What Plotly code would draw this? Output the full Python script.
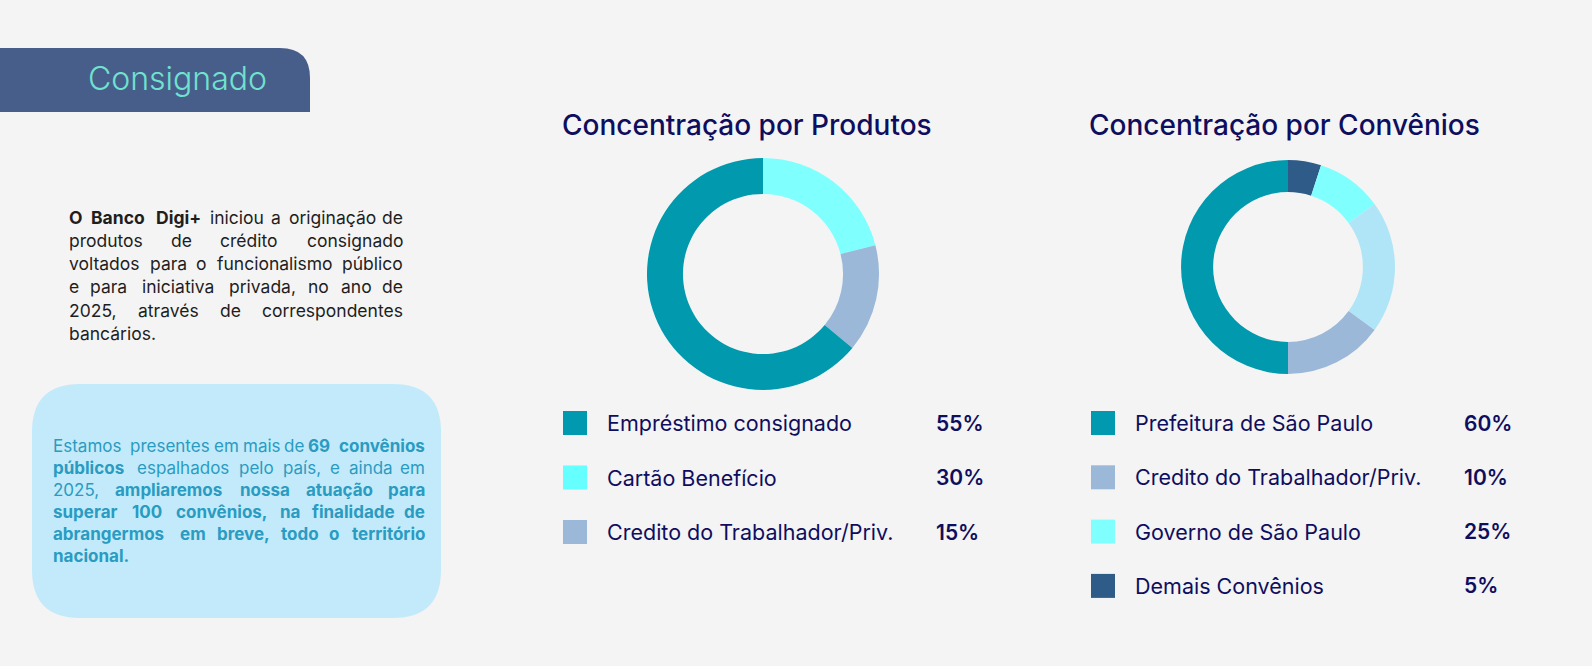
import plotly.graph_objects as go

# ---------------- data ----------------
header_title = "Consignado"
title_products = "Concentração por Produtos"
title_convenios = "Concentração por Convênios"

# donut slices, clockwise from 12 o'clock (as drawn)
prod_slice_labels = ["Cartão Benefício", "Credito do Trabalhador/Priv.", "Empréstimo consignado"]
prod_slice_values = [21, 15, 64]
prod_slice_colors = ["#80FFFF", "#9BB8D8", "#0099AD"]

conv_slice_labels = ["Demais Convênios", "Governo de São Paulo", "Outros",
                     "Credito do Trabalhador/Priv.", "Prefeitura de São Paulo"]
conv_slice_values = [5, 10, 20, 15, 50]
conv_slice_colors = ["#2E5B88", "#80FFFF", "#B0E5F7", "#9BB8D8", "#0099AD"]

# legends
prod_legend_labels = ["Empréstimo consignado", "Cartão Benefício", "Credito do Trabalhador/Priv."]
prod_legend_pcts = ["55%", "30%", "15%"]
prod_legend_colors = ["#0099AF", "#66FFFF", "#9BB8D8"]

conv_legend_labels = ["Prefeitura de São Paulo", "Credito do Trabalhador/Priv.",
                      "Governo de São Paulo", "Demais Convênios"]
conv_legend_pcts = ["60%", "10%", "25%", "5%"]
conv_legend_colors = ["#0099AF", "#9BB8D8", "#80FFFF", "#2E5B88"]

# paragraphs (**bold**)
left_par_lines = [
    "**O Banco Digi+** iniciou a originação de",
    "produtos de crédito consignado",
    "voltados para o funcionalismo público",
    "e para iniciativa privada, no ano de",
    "2025, através de correspondentes",
    "bancários.",
]
box_par_lines = [
    "Estamos presentes em mais de **69 convênios**",
    "**públicos** espalhados pelo país, e ainda em",
    "2025, **ampliaremos nossa atuação para**",
    "**superar 100 convênios, na finalidade de**",
    "**abrangermos em breve, todo o território**",
    "**nacional.**",
]

W, H = 1592, 666
FONT = "Inter"
BG = "#F4F4F4"
NAVY = "#0F0E5E"

# ---------------- helpers ----------------
CW = {}
for c in "abcdeghnopqsuvxyz": CW[c] = 0.57
for c in "0123456789": CW[c] = 0.62
for c in "ijl": CW[c] = 0.25
for c in "frt": CW[c] = 0.37
CW["m"] = 0.88; CW["w"] = 0.8; CW["k"] = 0.53
for c in ",.": CW[c] = 0.27
CW["+"] = 0.62; CW["/"] = 0.38; CW["%"] = 0.82


def est_w(word, size, bold):
    w = 0
    for ch in word:
        base = ch.lower()
        if ch.isupper():
            w += 0.7
        elif base in CW:
            w += CW[base]
        elif base == "í":
            w += 0.27
        else:
            w += 0.58
    return w * size * 1.04 * (1.1 if bold else 1.0)


def parse_words(line):
    words = []
    for part_i, part in enumerate(line.split("**")):
        b = part_i % 2 == 1
        for w in part.split():
            words.append((w, b))
    return words


annotations = []


def add_paragraph(lines, x0, x1, y0, dy, size, color):
    for i, line in enumerate(lines):
        y = y0 + i * dy
        words = parse_words(line)
        last = i == len(lines) - 1
        if last or len(words) == 1:
            txt = " ".join(("<b>%s</b>" % w) if b else w for w, b in words)
            annotations.append(dict(x=x0, y=y, xref="x", yref="y", text=txt,
                                    xanchor="left", yanchor="middle", showarrow=False,
                                    font=dict(family=FONT, size=size, color=color)))
            continue
        widths = [est_w(w, size, b) for w, b in words]
        gap = (x1 - x0 - sum(widths)) / (len(words) - 1)
        cx = x0
        for j, ((w, b), wd) in enumerate(zip(words, widths)):
            if j == 0:
                xa, xp = "left", x0
            elif j == len(words) - 1:
                xa, xp = "right", x1
            else:
                xa, xp = "center", cx + wd / 2
            annotations.append(dict(x=xp, y=y, xref="x", yref="y",
                                    text=("<b>%s</b>" % w) if b else w,
                                    xanchor=xa, yanchor="middle", showarrow=False,
                                    font=dict(family=FONT, size=size, color=color)))
            cx += wd + gap


# ---------------- figure ----------------
fig = go.Figure()


def legend_block(labels, pcts, colors, sx, lx, px, y0, dy):
    ys = [y0 + i * dy for i in range(len(labels))]
    fig.add_trace(go.Scatter(x=[sx] * len(labels), y=ys, mode="markers",
                             marker=dict(symbol="square", size=24, color=colors,
                                         line=dict(width=0)),
                             hoverinfo="skip", showlegend=False))
    for lab, pct, y in zip(labels, pcts, ys):
        annotations.append(dict(x=lx, y=y, xref="x", yref="y", text=lab,
                                xanchor="left", yanchor="middle", showarrow=False,
                                font=dict(family=FONT, size=21.5, color=NAVY)))
        annotations.append(dict(x=px, y=y, xref="x", yref="y", text=pct,
                                xanchor="left", yanchor="middle", showarrow=False,
                                font=dict(family=FONT, size=21, color=NAVY, weight=600)))


legend_block(prod_legend_labels, prod_legend_pcts, prod_legend_colors, 575, 605, 934, 423, 54.5)
legend_block(conv_legend_labels, conv_legend_pcts, conv_legend_colors, 1103, 1133, 1462, 423, 54.3)

fig.add_trace(go.Pie(labels=prod_slice_labels, values=prod_slice_values,
                     marker=dict(colors=prod_slice_colors, line=dict(width=0)),
                     sort=False, direction="clockwise", rotation=0, hole=0.69,
                     textinfo="none", hoverinfo="label+percent", showlegend=False,
                     domain=dict(x=[(763 - 116) / W, (763 + 116) / W],
                                 y=[1 - 390 / H, 1 - 158 / H])))
fig.add_trace(go.Pie(labels=conv_slice_labels, values=conv_slice_values,
                     marker=dict(colors=conv_slice_colors, line=dict(width=0)),
                     sort=False, direction="clockwise", rotation=0, hole=0.70,
                     textinfo="none", hoverinfo="label+percent", showlegend=False,
                     domain=dict(x=[(1288 - 107) / W, (1288 + 107) / W],
                                 y=[1 - 374 / H, 1 - 160 / H])))

shapes = [
    dict(type="path", xref="x", yref="y", layer="below",
         path="M 0,48 L 280,48 Q 310,48 310,78 L 310,112 L 0,112 Z",
         fillcolor="#475E8B", line=dict(width=0)),
    dict(type="path", xref="x", yref="y", layer="below",
         path=("M 80,384 L 393,384 Q 441,384 441,432 L 441,570 Q 441,618 393,618 "
               "L 80,618 Q 32,618 32,570 L 32,432 Q 32,384 80,384 Z"),
         fillcolor="#C2EAFB", line=dict(width=0)),
]

annotations.append(dict(x=177, y=78, xref="x", yref="y", text=header_title,
                        xanchor="center", yanchor="middle", showarrow=False,
                        font=dict(family=FONT, size=32, color="#6FE3CF", weight=300)))
annotations.append(dict(x=747, y=125, xref="x", yref="y", text=title_products,
                        xanchor="center", yanchor="middle", showarrow=False,
                        font=dict(family=FONT, size=28, color=NAVY, weight=500)))
annotations.append(dict(x=1284, y=125, xref="x", yref="y", text=title_convenios,
                        xanchor="center", yanchor="middle", showarrow=False,
                        font=dict(family=FONT, size=28, color=NAVY, weight=500)))

add_paragraph(left_par_lines, 67, 405, 217, 23.3, 17.5, "#1E1E1E")
add_paragraph(box_par_lines, 51, 427, 446, 22, 17, "#2A9BC1")

fig.update_layout(
    width=W, height=H, margin=dict(l=0, r=0, t=0, b=0),
    paper_bgcolor=BG, plot_bgcolor=BG,
    xaxis=dict(range=[0, W], visible=False, fixedrange=True, domain=[0, 1]),
    yaxis=dict(range=[H, 0], visible=False, fixedrange=True, domain=[0, 1]),
    shapes=shapes, annotations=annotations, showlegend=False,
)

fig.write_html("out.html")
